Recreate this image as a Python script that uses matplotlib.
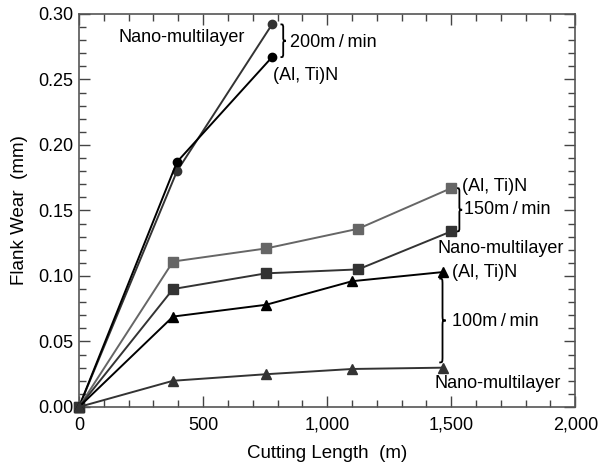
import numpy as np
import matplotlib
matplotlib.use("Agg")
import matplotlib.pyplot as plt
from matplotlib.path import Path
from matplotlib.patches import PathPatch
from matplotlib.ticker import MultipleLocator, FuncFormatter

plt.rcParams['font.family'] = ['Liberation Sans', 'DejaVu Sans']

# cutting length (m) and flank wear (mm)
x_200 = [0, 395, 778]
altin_200 = [0, 0.187, 0.267]
nano_200 = [0, 0.180, 0.292]

x_150 = [0, 379, 754, 1125, 1500]
altin_150 = [0, 0.111, 0.121, 0.136, 0.167]
nano_150 = [0, 0.090, 0.102, 0.105, 0.134]

x_100 = [0, 379, 754, 1101, 1468]
altin_100 = [0, 0.069, 0.078, 0.096, 0.103]
nano_100 = [0, 0.020, 0.025, 0.029, 0.030]


def brace(ax, x, y_top, y_bot, w=22, r=0.004, lw=1.3):
    """Draw a '}' shaped curly brace from y_top to y_bot at data x."""
    ym = (y_top + y_bot) / 2
    xc = x + w / 2
    verts = [
        (x, y_top), (xc, y_top), (xc, y_top), (xc, y_top - r),
        (xc, ym + r),
        (xc, ym), (xc, ym), (x + w, ym),
        (xc, ym), (xc, ym), (xc, ym - r),
        (xc, y_bot + r),
        (xc, y_bot), (xc, y_bot), (x, y_bot),
    ]
    codes = [Path.MOVETO, Path.CURVE4, Path.CURVE4, Path.CURVE4,
             Path.LINETO,
             Path.CURVE4, Path.CURVE4, Path.CURVE4,
             Path.CURVE4, Path.CURVE4, Path.CURVE4,
             Path.LINETO,
             Path.CURVE4, Path.CURVE4, Path.CURVE4]
    ax.add_patch(PathPatch(Path(verts, codes), fill=False, lw=lw,
                           edgecolor='black', clip_on=False))


fig = plt.figure(figsize=(6.03, 4.63), dpi=100)
ax = fig.add_axes([0.131, 0.121, 0.823, 0.849])

lw = 1.4
ax.plot(x_200, nano_200, '-o', color='#333333', lw=lw, ms=6, clip_on=False, zorder=3)
ax.plot(x_200, altin_200, '-o', color='black', lw=lw, ms=6, clip_on=False, zorder=3)
ax.plot(x_150, altin_150, '-s', color='#666666', lw=lw, ms=7.5, clip_on=False, zorder=3)
ax.plot(x_150, nano_150, '-s', color='#333333', lw=lw, ms=7.5, clip_on=False, zorder=3)
ax.plot(x_100, altin_100, '-^', color='black', lw=lw, ms=7, clip_on=False, zorder=3)
ax.plot(x_100, nano_100, '-^', color='#333333', lw=lw, ms=7, clip_on=False, zorder=3)

ax.set_xlim(0, 2000)
ax.set_ylim(0, 0.30)
ax.xaxis.set_major_locator(MultipleLocator(500))
ax.xaxis.set_minor_locator(MultipleLocator(100))
ax.yaxis.set_major_locator(MultipleLocator(0.05))
ax.yaxis.set_minor_locator(MultipleLocator(0.01))
ax.xaxis.set_major_formatter(FuncFormatter(lambda v, p: f"{int(v):,}"))
ax.yaxis.set_major_formatter(FuncFormatter(lambda v, p: f"{v:.2f}"))
ax.tick_params(which='both', direction='in', top=True, right=True,
               color='#444444', labelsize=13, labelcolor='black')
ax.tick_params(which='major', length=8, width=1)
ax.tick_params(which='minor', length=5, width=1)
ax.tick_params(axis='x', pad=7)
ax.tick_params(axis='y', pad=4)
for s in ax.spines.values():
    s.set_color('#555555')
    s.set_linewidth(1.2)

ax.set_xlabel('Cutting Length  (m)', fontsize=13.5, labelpad=8)
ax.set_ylabel('Flank Wear  (mm)', fontsize=13.5, labelpad=7)

fs = 13
ts = '\u2009'
# 200 m/min
ax.text(670, 0.282, 'Nano-multilayer', fontsize=fs, ha='right', va='center')
ax.text(780, 0.253, '(Al, Ti)N', fontsize=fs, ha='left', va='center')
brace(ax, 812, nano_200[-1], altin_200[-1])
ax.text(852, 0.278, f'200m{ts}/{ts}min', fontsize=fs, ha='left', va='center')

# 150 m/min
ax.text(1542, 0.168, '(Al, Ti)N', fontsize=fs, ha='left', va='center')
brace(ax, 1522, altin_150[-1], nano_150[-1])
ax.text(1552, 0.151, f'150m{ts}/{ts}min', fontsize=fs, ha='left', va='center')
ax.text(1955, 0.121, 'Nano-multilayer', fontsize=fs, ha='right', va='center')

# 100 m/min
ax.text(1502, 0.103, '(Al, Ti)N', fontsize=fs, ha='left', va='center')
brace(ax, 1452, 0.098, 0.034, w=26, r=0.005)
ax.text(1502, 0.065, f'100m{ts}/{ts}min', fontsize=fs, ha='left', va='center')
ax.text(1942, 0.018, 'Nano-multilayer', fontsize=fs, ha='right', va='center')

fig.savefig('out.png', dpi=100)
